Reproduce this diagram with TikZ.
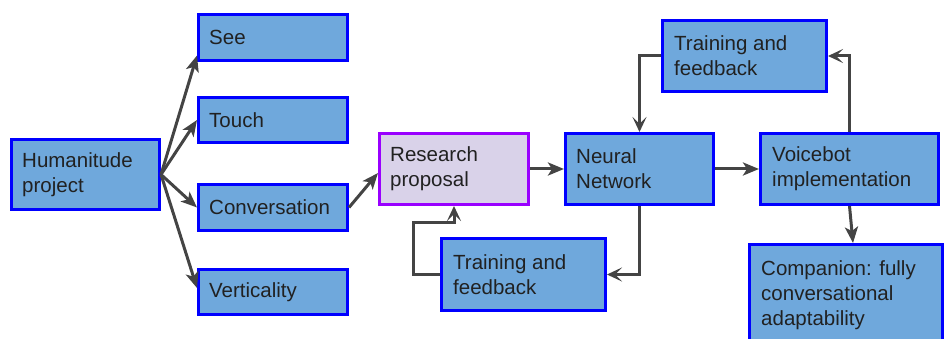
\documentclass[tikz,border=0pt]{standalone}
\usepackage{fontspec}
\setmainfont{Liberation Sans}
\usetikzlibrary{arrows.meta,calc}
\definecolor{boxfill}{HTML}{6FA8DC}
\definecolor{boxline}{HTML}{0000FF}
\definecolor{rpfill}{HTML}{D9D2E9}
\definecolor{rpline}{HTML}{9900FF}
\definecolor{arr}{HTML}{444444}
\definecolor{txtc}{HTML}{212121}
\begin{document}
\begin{tikzpicture}[x=1pt,y=-1pt,
  box/.style={draw=boxline, fill=boxfill, line width=3pt, inner sep=0pt},
  rpbox/.style={draw=rpline, fill=rpfill, line width=3pt, inner sep=0pt},
  txt/.style={anchor=west, align=left, font=\fontsize{20.5}{25}\selectfont, text=txtc, inner sep=0pt},
  con/.style={draw=arr, line width=3pt, -{Stealth[length=16pt,width=13pt,inset=4pt]}},
  fb/.style={draw=arr, line width=3pt, -{Stealth[length=15pt,width=14pt,inset=7pt]}}]
\useasboundingbox (0,0) rectangle (947,339);

\node[box,minimum width=148pt,minimum height=70pt] (hum) at (85.5,174.5) {};
\node[txt] at ($(hum.west)+(12,0)$) {Humanitude\\project};

\node[box,minimum width=149pt,minimum height=46pt] (see) at (273,37.5) {};
\node[txt] at ($(see.west)+(12,0)$) {See};
\node[box,minimum width=149pt,minimum height=45pt] (touch) at (273,120) {};
\node[txt] at ($(touch.west)+(12,0)$) {Touch};
\node[box,minimum width=149pt,minimum height=46pt] (conv) at (273,207.5) {};
\node[txt] at ($(conv.west)+(12,0)$) {Conversation};
\node[box,minimum width=149pt,minimum height=45pt] (vert) at (273,292) {};
\node[txt] at ($(vert.west)+(12,0)$) {Verticality};

\node[rpbox,minimum width=149pt,minimum height=71pt] (rp) at (454,169) {};
\node[txt] at ($(rp.west)+(12,0)$) {Research\\proposal};

\node[box,minimum width=148pt,minimum height=71pt] (nn) at (639.5,169) {};
\node[txt] at ($(nn.west)+(12,0)$) {Neural\\Network};

\node[box,minimum width=164pt,minimum height=72pt] (tb) at (523.5,274.5) {};
\node[txt] at ($(tb.west)+(13,0)$) {Training and\\feedback};

\node[box,minimum width=164pt,minimum height=71pt] (tt) at (744.5,56) {};
\node[txt] at ($(tt.west)+(13,0)$) {Training and\\feedback};

\node[box,minimum width=178pt,minimum height=71pt] (vb) at (849.5,169) {};
\node[txt] at ($(vb.west)+(13,0)$) {Voicebot\\implementation};

\node[box,minimum width=193pt,minimum height=101pt] (comp) at (846,295) {};
\node[txt] at ($(comp.west)+(13,0)$) {Companion: fully\\conversational\\adaptability};

\draw[con] (hum.east) -- ($(see.west)+(0,18)$);
\draw[con] (hum.east) -- (touch.west);
\draw[con] (hum.east) -- (conv.west);
\draw[con] (hum.east) -- ($(vert.west)+(0,-4)$);
\draw[con] (conv.east) -- ($(rp.west)+(0,4)$);
\draw[con] (rp.east) -- (nn.west);
\draw[con] (nn.east) -- (vb.west);
\draw[con] (vb.south) -- ($(comp.north)+(7,0)$);

\coordinate (fbl) at (413,222);
\draw[fb] (nn.south) |- (tb.east);
\draw[fb] (tb.west) -| (fbl) -- (fbl -| rp.south) -- (rp.south);
\draw[fb] (vb.north) |- (tt.east);
\draw[fb] (tt.west) -| (nn.north);
\end{tikzpicture}
\end{document}
